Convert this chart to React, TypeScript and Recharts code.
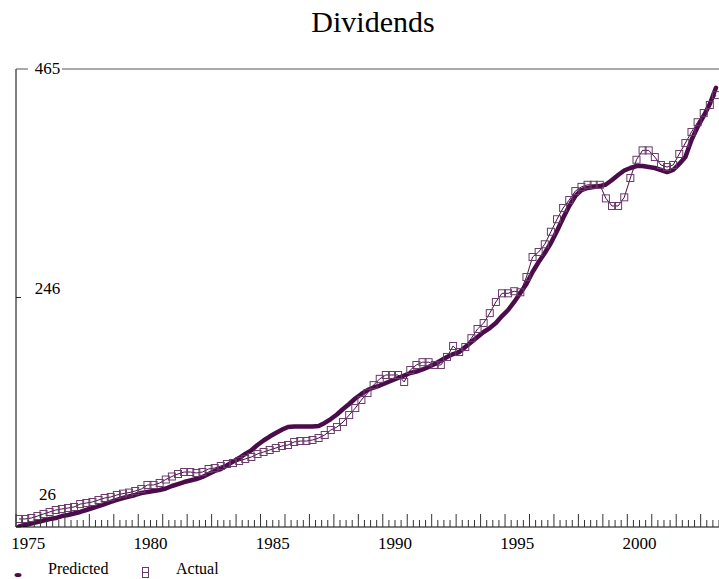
import React from 'react';
import { LineChart, Line, XAxis, YAxis } from 'recharts';

const START_YEAR = 1975;
const END_YEAR = 2003.75;
const YEAR_LABELS = [1975, 1980, 1985, 1990, 1995, 2000];
const Y_TICKS = [26, 246, 465];
const Y_LABEL_DY = [-27, -3.5, 5];

const ACTUAL = [
  33.7, 33.7, 34.6, 36.5, 38.5, 40.4, 42.3, 43.3, 44.2, 45.2,
  48, 49, 50, 51.9, 53.8, 54.8, 56.7, 58, 59, 60.5,
  62.4, 66.3, 66.3, 68.2, 71.5, 74.4, 76.8, 78.7, 78.7, 77.8,
  78.7, 81.6, 82.5, 84.5, 86.4, 87.3, 89.3, 91.2, 93.1, 96,
  97.9, 99.8, 101.7, 103.6, 104.6, 107.5, 108.4, 108.4, 109.4, 111.3,
  114.2, 119, 121.8, 126.6, 133.3, 140, 147.7, 154.4, 162, 168,
  171.7, 171.7, 171.7, 165, 176.5, 181.3, 184, 184, 181.3, 181.3,
  189, 199.5, 193.7, 198.5, 207, 215.8, 221.5, 231, 241.7, 250,
  250, 252, 251, 265.6, 284.8, 289.6, 297, 309, 321, 331.8,
  339.4, 348, 352, 354, 354, 354, 341, 333.7, 333.7, 342,
  360.5, 378, 387, 387, 380.6, 373, 371, 373, 383.5, 394,
  404.6, 414, 422.8, 430.5, 440,
];

const PREDICTED = [
  26.5, 27.9, 29.4, 30.8, 32.2, 33.7, 34.6, 36.5, 37.5, 38.9,
  40.4, 42.3, 44.2, 46.1, 48, 50, 51.9, 53.8, 55.2, 56.7,
  58.6, 59.5, 60.5, 61.5, 62.9, 65.3, 67.2, 69.1, 70.6, 72,
  74, 76.8, 79.7, 81.6, 85, 88.6, 92.1, 96, 99.5, 104.6,
  108.9, 112.7, 116.1, 119.3, 121.8, 122.3, 122.3, 122.3, 122.3, 122.8,
  125.7, 129.5, 133.8, 139.1, 143.9, 149.2, 153.5, 157.3, 159.7, 161.6,
  164, 166.4, 168.8, 171.2, 173.6, 175, 177, 179.4, 182.2, 185.6,
  189, 191.8, 193.7, 198.5, 203.3, 208.1, 212.9, 216.7, 221.5, 228.2,
  234, 241.7, 250.3, 258.9, 270.4, 280, 288.6, 298.2, 309.7, 322.2,
  333.7, 343.3, 349, 351, 351.9, 352.8, 354.3, 358.6, 363.4, 367.7,
  370.1, 372, 372, 371, 370.1, 368.2, 366.2, 368.2, 374, 380.6,
  397, 409.4, 420, 431.4, 447,
];

const data = ACTUAL.map((a, i) => ({
  t: START_YEAR + (i + 0.5) / 4,
  actual: a,
  predicted: PREDICTED[i],
}));

const quarterTicks: number[] = [];
for (let q = 0; q <= (END_YEAR - START_YEAR) * 4; q++) quarterTicks.push(START_YEAR + q / 4);

const COLOR = '#4a0c4a';
const SQUARE = '#6a3a6a';
const FONT = '"Times New Roman", "Liberation Serif", Times, serif';
const textStyle = { fontFamily: FONT };

const XTick = (props: any) => {
  const { x, y, payload } = props;
  const v = payload.value as number;
  const isYear = Math.abs(v - Math.round(v)) < 1e-6;
  const labelYear = v - 0.5;
  const show = YEAR_LABELS.some((yr) => Math.abs(yr - labelYear) < 1e-6);
  return (
    <g>
      <line x1={x} x2={x} y1={y} y2={y - (isYear ? 13 : 7)} stroke="#333" strokeWidth={1} />
      {show && (
        <text x={x} y={y + 22} textAnchor="middle" style={textStyle} fontSize={17} fill="#000">
          {Math.round(labelYear)}
        </text>
      )}
    </g>
  );
};

const YTick = (props: any) => {
  const { x, y, payload, index } = props;
  const v = payload.value as number;
  const isTop = index === Y_TICKS.length - 1;
  return (
    <g>
      {isTop ? (
        <>
          <line x1={x} x2={x + 12} y1={y} y2={y} stroke="#555" />
          <line x1={x + 46} x2={x + 703} y1={y} y2={y} stroke="#555" />
        </>
      ) : (
        <line x1={x} x2={x + 5} y1={y} y2={y} stroke="#222" />
      )}
      <text x={x + 31.5} y={y + Y_LABEL_DY[index]} textAnchor="middle" style={textStyle} fontSize={17} fill="#000">
        {v}
      </text>
    </g>
  );
};

const SquareDot = (props: any) => {
  const { cx, cy, index } = props;
  return (
    <rect key={`sq-${index}`} x={cx - 3.5} y={cy - 3.5} width={7} height={7} fill="none" stroke={SQUARE} strokeWidth={1} />
  );
};

export default function App() {
  return (
    <div style={{ position: 'absolute', left: 0, top: 0, width: 719, height: 579, background: '#fff' }}>
      <LineChart
        width={719}
        height={579}
        data={data}
        margin={{ top: 69, right: 0, bottom: 22, left: 15 }}
      >
        <XAxis
          dataKey="t"
          type="number"
          domain={[START_YEAR, END_YEAR]}
          ticks={quarterTicks}
          interval={0}
          tickSize={0}
          tickMargin={0}
          tickLine={false}
          height={30}
          allowDataOverflow
          axisLine={{ stroke: '#000' }}
          tick={<XTick />}
        />
        <YAxis
          type="number"
          domain={[26, 465]}
          ticks={Y_TICKS}
          interval={0}
          tickSize={0}
          tickMargin={0}
          tickLine={false}
          width={1}
          allowDataOverflow
          axisLine={{ stroke: '#000' }}
          tick={<YTick />}
        />
        <Line
          type="linear"
          dataKey="predicted"
          stroke={COLOR}
          strokeWidth={4.5}
          strokeLinejoin="round"
          strokeLinecap="round"
          dot={false}
          isAnimationActive={false}
        />
        <Line
          type="linear"
          dataKey="actual"
          stroke={COLOR}
          strokeWidth={1}
          dot={<SquareDot />}
          isAnimationActive={false}
        />
      </LineChart>
      <svg width={719} height={579} style={{ position: 'absolute', left: 0, top: 0, pointerEvents: 'none' }}>
        <text x={373} y={32} textAnchor="middle" style={textStyle} fontSize={30} fill="#000">
          Dividends
        </text>
        <ellipse cx={18} cy={575} rx={3.5} ry={2} fill={COLOR} />
        <text x={48} y={574} style={textStyle} fontSize={16} fill="#000">
          Predicted
        </text>
        <rect x={142.5} y={567.5} width={6} height={10} fill="none" stroke={SQUARE} strokeWidth={1} />
        <line x1={142.5} x2={148.5} y1={572.5} y2={572.5} stroke={SQUARE} strokeWidth={1} />
        <text x={176} y={574} style={textStyle} fontSize={16} fill="#000">
          Actual
        </text>
      </svg>
    </div>
  );
}
